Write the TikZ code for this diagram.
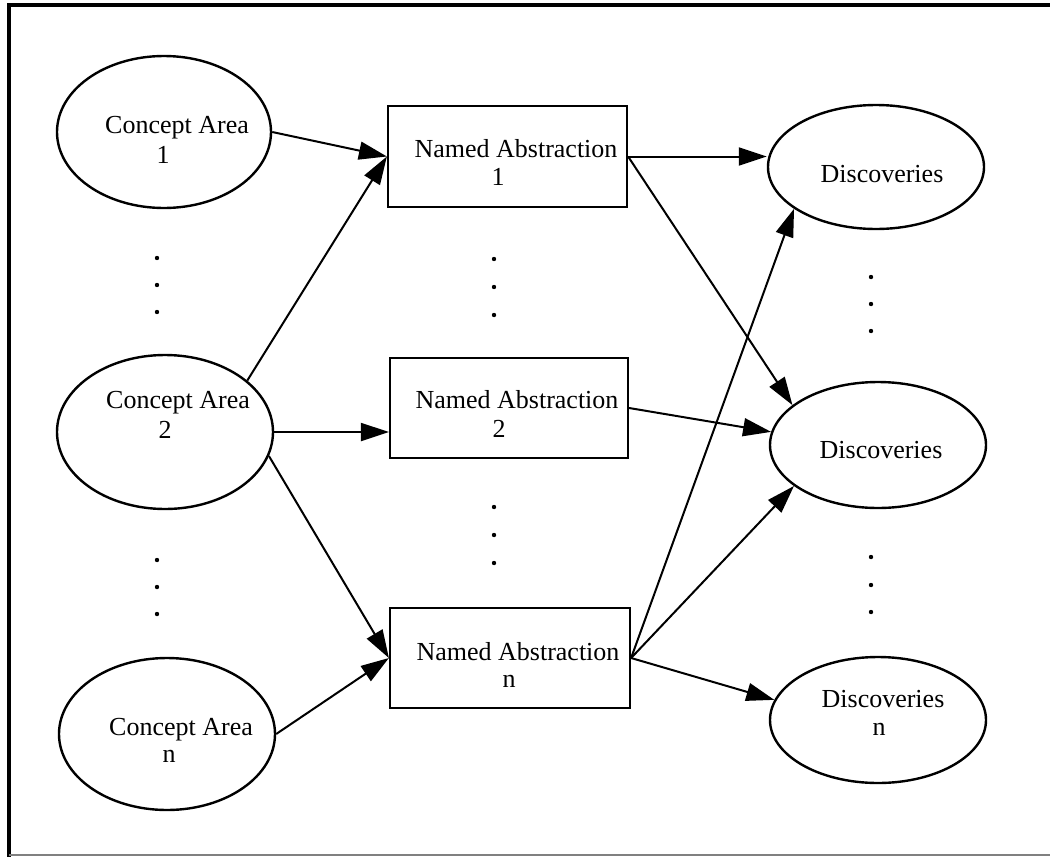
\documentclass[tikz,border=0pt]{standalone}
\usepackage{fontspec}
\setmainfont{Liberation Serif}
\usetikzlibrary{arrows.meta,shapes.geometric}
\begin{document}
\begin{tikzpicture}[x=0.5pt,y=-0.5pt,
  concept/.style={ellipse, draw, line width=1.2pt, inner sep=0pt},
  abstr/.style={rectangle, draw, line width=1.1pt, inner sep=0pt},
  lbl/.style={anchor=base, inner sep=0pt, font=\fontsize{13}{15}\selectfont},
  conn/.style={line width=1pt, -{Triangle[length=14pt,width=9pt]}},
  dot/.style={circle, fill, inner sep=0pt, minimum size=2.2pt}]
\useasboundingbox (0,0) rectangle (1050,857);

% frame
\draw[line width=2pt] (9,857) -- (9,5) -- (1050,5);
\draw[gray, line width=1pt] (9,855) -- (1050,855);

% concept areas
\node[concept, minimum width=107pt, minimum height=76pt] (CA1) at (164,132) {};
\node[concept, minimum width=108pt, minimum height=77pt] (CA2) at (165,432) {};
\node[concept, minimum width=108pt, minimum height=76pt] (CAn) at (167,734) {};
\node[lbl] (CA1t) at (177,133) {Concept Area};
\node[lbl] (CA1n) at (163,163) {1};
\node[lbl] (CA2t) at (178,408) {Concept Area};
\node[lbl] (CA2n) at (165,438) {2};
\node[lbl] (CAnt) at (181,735) {Concept Area};
\node[lbl] (CAnn) at (169,762) {n};

% named abstractions
\node[abstr, minimum width=119.5pt, minimum height=50.5pt] (NA1) at (507.5,156.5) {};
\node[abstr, minimum width=119pt, minimum height=50pt] (NA2) at (509,408) {};
\node[abstr, minimum width=120pt, minimum height=50pt] (NAn) at (510,658) {};
\node[lbl] (NA1t) at (516,157) {Named Abstraction};
\node[lbl] (NA1n) at (498,185) {1};
\node[lbl] (NA2t) at (517,408) {Named Abstraction};
\node[lbl] (NA2n) at (499,437) {2};
\node[lbl] (NAnt) at (518,660) {Named Abstraction};
\node[lbl] (NAnn) at (509,687) {n};

% discoveries
\node[concept, minimum width=108pt, minimum height=62pt] (D1) at (876,167) {};
\node[concept, minimum width=108pt, minimum height=63pt] (D2) at (878,445) {};
\node[concept, minimum width=108pt, minimum height=63pt] (Dn) at (878,720) {};
\node[lbl] (D1t) at (882,182) {Discoveries};
\node[lbl] (D2t) at (881,458) {Discoveries};
\node[lbl] (Dnt) at (883,707) {Discoveries};
\node[lbl] (Dnn) at (879,735) {n};

% ellipsis dots
\foreach \x/\y in {157/258,157/285,157/312,157/560,157/587,157/614,
                   494/259,494/287,494/315,494/507,494/535,494/563,
                   871/277,871/304,871/331,871/557,871/585,871/612}
  \node[dot] at (\x,\y) {};

% connectors
\draw[conn] (CA1.east) -- (NA1.west);
\draw[conn] (CA2.32) -- (NA1.west);
\draw[conn] (CA2.east) -- (CA2.east -| NA2.west);
\draw[conn] (CA2.-13) -- (NAn.west);
\draw[conn] (CAn.east) -- (NAn.west);
\draw[conn] (NA1.east) -- (NA1.east -| D1.west);
\draw[conn] (NA1.east) -- (D2.155);
\draw[conn] (NA2.east) -- (D2.173);
\draw[conn] (NAn.east) -- (D1.-153);
\draw[conn] (NAn.east) -- (D2.-154);
\draw[conn] (NAn.east) -- (Dn.169);
\end{tikzpicture}
\end{document}
